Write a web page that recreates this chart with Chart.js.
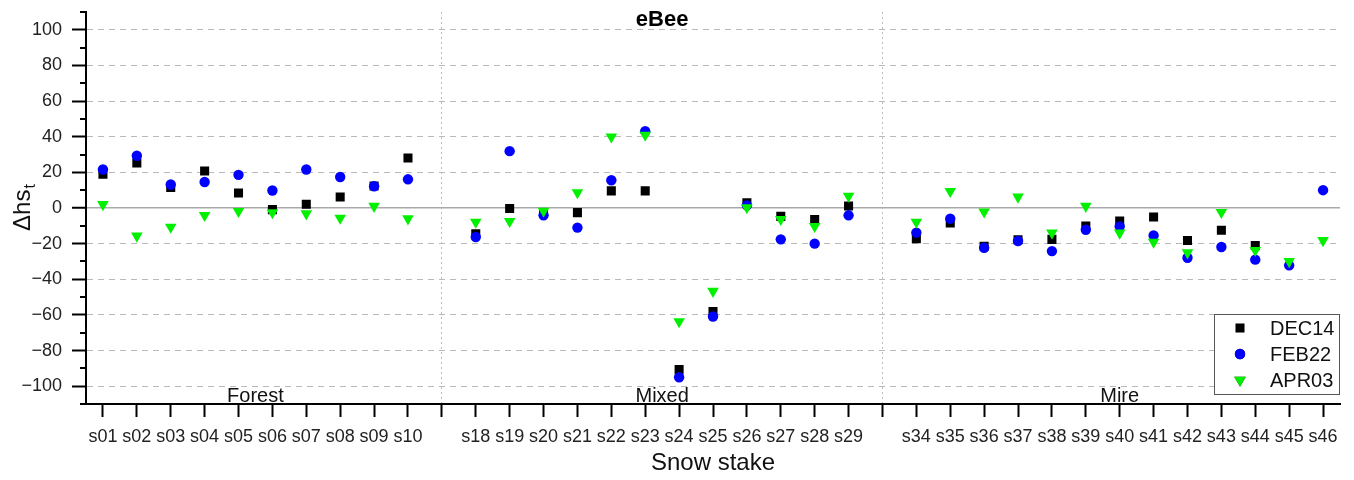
<!DOCTYPE html>
<html><head><meta charset="utf-8">
<script src="https://cdn.jsdelivr.net/npm/chart.js@4/dist/chart.umd.min.js"></script>
<style>html,body{margin:0;padding:0;background:#fff}canvas{display:block}</style>
</head><body>
<canvas id="c" width="1354" height="480"></canvas>
<script>
const categories = ['s01','s02','s03','s04','s05','s06','s07','s08','s09','s10','',
  's18','s19','s20','s21','s22','s23','s24','s25','s26','s27','s28','s29','',
  's34','s35','s36','s37','s38','s39','s40','s41','s42','s43','s44','s45','s46'];
const dec14 = [19, 25.3, 11.5, 20.8, 8.4, -0.9, 2.1, 6.2, 12.4, 28.1, null,
  -14.4, -0.3, -2.5, -2.6, 9.6, 9.6, -90.7, -58.1, 3, -4.7, -6.5, 1.1, null,
  -17.2, -8.4, -21.5, -17.8, -17.6, -10.1, -7.3, -5.1, -18.2, -12.5, -21, null, null];
const feb22 = [21.6, 29.3, 13.2, 14.6, 18.6, 9.8, 21.6, 17.4, 12.2, 16.1, null,
  -16.3, 31.9, -4.1, -11, 15.6, 43.1, -95, -60.9, 1.5, -17.6, -20, -4.1, null,
  -13.8, -6, -22.3, -18.5, -24.2, -12.2, -10.3, -15.4, -27.9, -21.9, -29, -32.2, 10];
const apr03 = [2, -15.7, -10.7, -4.1, -1.9, -2.6, -3.2, -5.6, 1, -6, null,
  -7.9, -7.5, -1.7, 8.7, 40, 40.9, -63.7, -46.7, 0.2, -6.4, -10.3, 6.7, null,
  -7.9, 9.4, -2.2, 6.2, -14, 1, -14, -19.1, -25.1, -2.4, -23.8, -30, -18.2];
const yTicks = [-100, -80, -60, -40, -20, 0, 20, 40, 60, 80, 100];
const yMinorTicks = [-110, -90, -70, -50, -30, -10, 10, 30, 50, 70, 90, 110];
const groupNames = ['Forest', 'Mixed', 'Mire'];
const groupFirst = ['s01', 's18', 's34'];
const groupLast = ['s10', 's29', 's46'];
const seriesNames = ['DEC14', 'FEB22', 'APR03'];
const chartTitle = 'eBee';

const FONT = "'Liberation Sans', Arial, sans-serif";

const decor = {
  id: 'decor',
  afterDraw(chart) {
    const ctx = chart.ctx;
    const xs = chart.scales.x, ys = chart.scales.y;
    const ca = chart.chartArea;
    ctx.save();
    // minor ticks
    ctx.strokeStyle = '#000'; ctx.lineWidth = 2;
    yMinorTicks.forEach(v => {
      const y = Math.round(ys.getPixelForValue(v));
      ctx.beginPath(); ctx.moveTo(ca.left - 6, y); ctx.lineTo(ca.left, y); ctx.stroke();
    });
    // group labels
    ctx.fillStyle = '#111'; ctx.font = '20px ' + FONT;
    ctx.textAlign = 'center'; ctx.textBaseline = 'alphabetic';
    groupNames.forEach((n, i) => {
      const a = xs.getPixelForValue(categories.indexOf(groupFirst[i]));
      const b = xs.getPixelForValue(categories.indexOf(groupLast[i]));
      ctx.fillText(n, (a + b) / 2, ca.bottom - 2);
    });
    // title
    ctx.font = 'bold 22px ' + FONT; ctx.textBaseline = 'middle'; ctx.fillStyle = '#000';
    const tx = (xs.getPixelForValue(categories.indexOf('s23')) + xs.getPixelForValue(categories.indexOf('s24'))) / 2;
    ctx.fillText(chartTitle, tx, ca.top + 8);
    // y title with subscript
    ctx.save();
    ctx.translate(21, (ca.top + ca.bottom) / 2);
    ctx.rotate(-Math.PI / 2);
    ctx.fillStyle = '#111';
    ctx.font = '24px ' + FONT; ctx.textBaseline = 'alphabetic'; ctx.textAlign = 'left';
    const main = '\u0394hs';
    const w1 = ctx.measureText(main).width;
    ctx.font = '16px ' + FONT;
    const w2 = ctx.measureText('t').width;
    const x0 = -(w1 + w2) / 2;
    ctx.font = '24px ' + FONT;
    ctx.fillText(main, x0, 9);
    ctx.font = '16px ' + FONT;
    ctx.fillText('t', x0 + w1 + 1, 14);
    ctx.restore();
    // legend
    const bw = 125, bh = 80;
    const bx = ca.right - bw - 1, by = ca.bottom - bh - 10;
    ctx.fillStyle = '#fff'; ctx.fillRect(bx, by, bw, bh);
    ctx.strokeStyle = '#555'; ctx.lineWidth = 1;
    ctx.strokeRect(bx + 0.5, by + 0.5, bw, bh);
    [0, 1, 2].forEach((di, r) => {
      const ds = chart.data.datasets.find(d => d.label === seriesNames[di]);
      const cy = by + 14 + r * 26;
      Chart.helpers.drawPoint(ctx, {pointStyle: ds.pointStyle, radius: ds.pointRadius, rotation: ds.rotation || 0, borderWidth: 0}, bx + 26, cy);
      ctx.fillStyle = ds.backgroundColor; ctx.fill();
      ctx.fillStyle = '#111'; ctx.font = '20px ' + FONT; ctx.textAlign = 'left'; ctx.textBaseline = 'middle';
      ctx.fillText(seriesNames[di], bx + 56, cy + 1);
    });
    ctx.restore();
  }
};

new Chart(document.getElementById('c'), {
  type: 'line',
  data: {
    labels: categories,
    datasets: [
      {label: 'DEC14', data: dec14, showLine: false, pointStyle: 'rect', pointRadius: 6.4, backgroundColor: '#000', borderColor: '#000', borderWidth: 0, order: 3},
      {label: 'FEB22', data: feb22, showLine: false, pointStyle: 'circle', pointRadius: 5.2, backgroundColor: '#0000ff', borderColor: '#0000ff', borderWidth: 0, order: 2},
      {label: 'APR03', data: apr03, showLine: false, pointStyle: 'triangle', rotation: 180, pointRotation: 180, pointRadius: 6.7, backgroundColor: '#00f000', borderColor: '#00f000', borderWidth: 0, order: 1}
    ]
  },
  options: {
    responsive: false, animation: false, devicePixelRatio: 1,
    layout: {padding: {top: 12, right: 14, left: 0, bottom: 0}},
    plugins: {legend: {display: false}, tooltip: {enabled: false}, title: {display: false}},
    elements: {point: {hoverRadius: 0}},
    scales: {
      x: {
        type: 'category', offset: true,
        afterFit(s) { s.height = 76; s.paddingLeft = 0; s.paddingRight = 0; },
        grid: {
          display: true, drawOnChartArea: true, drawTicks: true, offset: false,
          color: c => categories[c.index] === '' ? '#bdbdbd' : 'rgba(0,0,0,0)',
          lineWidth: 1, tickLength: 13, tickColor: '#000', tickWidth: 2
        },
        border: {display: true, color: '#000', width: 2, dash: [2, 3]},
        ticks: {autoSkip: false, maxRotation: 0, font: {family: FONT, size: 18}, color: '#222', padding: 9},
        title: {display: true, text: 'Snow stake', font: {family: FONT, size: 24}, color: '#111', padding: {top: 0, bottom: 2}}
      },
      y: {
        min: -110, max: 110,
        afterFit(s) { s.width = 86; s.paddingTop = 0; s.paddingBottom = 0; },
        afterBuildTicks(s) { s.ticks = yTicks.map(v => ({value: v})); },
        grid: {
          display: true, drawOnChartArea: true, drawTicks: true,
          color: c => (c.tick && c.tick.value === 0) ? '#a9a9a9' : '#b9b9b9',
          lineWidth: c => (c.tick && c.tick.value === 0) ? 1.5 : 1,
          tickLength: 14, tickColor: '#000', tickWidth: 2
        },
        border: {display: true, color: '#000', width: 2, dash: c => (c.tick && c.tick.value === 0) ? [] : [6, 5]},
        ticks: {font: {family: FONT, size: 18}, color: '#222', padding: 10,
          callback: v => String(v).replace('-', '\u2212')},
        title: {display: false}
      }
    }
  },
  plugins: [decor]
});
</script>
</body></html>
